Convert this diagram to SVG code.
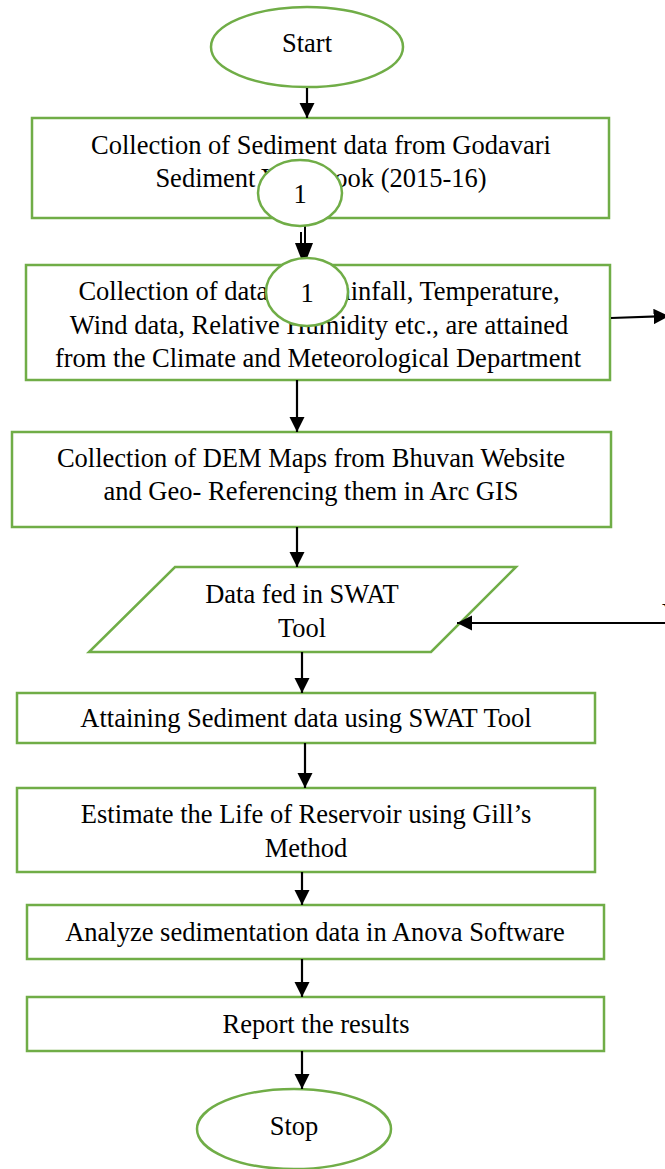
<svg xmlns="http://www.w3.org/2000/svg" width="665" height="1169" viewBox="0 0 665 1169">
  <defs>
    <marker id="arrow" viewBox="0 0 10 10" refX="10" refY="5" markerWidth="7" markerHeight="7" markerUnits="strokeWidth" orient="auto">
      <path d="M0,0 L10,5 L0,10 z" fill="#000"/>
    </marker>
    <style>
      .shape { fill: #fff; stroke: #70AD47; stroke-width: 2.5; }
      .label { font-family: "Liberation Serif", "Times New Roman", serif; font-size: 26.5px; fill: #000; text-anchor: middle; }
      .conn { stroke: #000; stroke-width: 2.2; fill: none; marker-end: url(#arrow); }
      .plain { stroke: #000; stroke-width: 2; fill: none; }
    </style>
  </defs>
  <rect width="665" height="1169" fill="#fff"/>

  <!-- terminal: start -->
  <g id="start">
    <ellipse class="shape" cx="307" cy="47" rx="96" ry="40"/>
    <text class="label" x="307" y="52">Start</text>
  </g>

  <!-- step boxes -->
  <g id="sediment-collection">
    <rect class="shape" x="32" y="118" width="577" height="100"/>
    <text class="label" x="321" y="154">Collection of Sediment data from Godavari</text>
    <text class="label" x="321" y="187">Sediment Year Book (2015-16)</text>
  </g>

  <g id="climate-collection">
    <rect class="shape" x="26" y="265" width="584" height="115"/>
    <text class="label" x="319" y="300">Collection of data like Rainfall, Temperature,</text>
    <text class="label" x="319" y="334">Wind data, Relative Humidity etc., are attained</text>
    <text class="label" x="318" y="367">from the Climate and Meteorological Department</text>
  </g>

  <g id="dem-collection">
    <rect class="shape" x="12" y="432" width="599" height="95"/>
    <text class="label" x="311" y="467">Collection of DEM Maps from Bhuvan Website</text>
    <text class="label" x="311" y="500">and Geo- Referencing them in Arc GIS</text>
  </g>

  <g id="swat-input">
    <polygon class="shape" points="175,567 516,567 431,652 89,652"/>
    <text class="label" x="302" y="603">Data fed in SWAT</text>
    <text class="label" x="302" y="637">Tool</text>
  </g>

  <g id="swat-output">
    <rect class="shape" x="17" y="693" width="578" height="50"/>
    <text class="label" x="306" y="727">Attaining Sediment data using SWAT Tool</text>
  </g>

  <g id="reservoir-life">
    <rect class="shape" x="17" y="788" width="578" height="84"/>
    <text class="label" x="306" y="823">Estimate the Life of Reservoir using Gill’s</text>
    <text class="label" x="306" y="857">Method</text>
  </g>

  <g id="anova">
    <rect class="shape" x="27" y="905" width="577" height="54"/>
    <text class="label" x="315" y="941">Analyze sedimentation data in Anova Software</text>
  </g>

  <g id="report">
    <rect class="shape" x="27" y="997" width="577" height="54"/>
    <text class="label" x="316" y="1033">Report the results</text>
  </g>

  <!-- terminal: stop -->
  <g id="stop">
    <ellipse class="shape" cx="294" cy="1129" rx="97" ry="40"/>
    <text class="label" x="294" y="1135">Stop</text>
  </g>

  <!-- connectors -->
  <g id="connectors">
    <line class="conn" x1="307" y1="88" x2="307" y2="118"/>
    <line class="plain" x1="301" y1="232" x2="301" y2="246"/>
    <line class="plain" x1="305" y1="226" x2="305" y2="246"/>
    <path d="M295,243 L313,243 L304,266 z" fill="#000"/>
    <line class="conn" x1="611" y1="318" x2="669" y2="316"/>
    <line class="conn" x1="297" y1="380" x2="297" y2="432"/>
    <line class="conn" x1="297" y1="527" x2="297" y2="567"/>
    <line class="conn" x1="667" y1="623" x2="457" y2="623"/>
    <line class="conn" x1="302" y1="652" x2="302" y2="693"/>
    <line class="conn" x1="305" y1="743" x2="305" y2="788"/>
    <line class="conn" x1="302" y1="872" x2="302" y2="905"/>
    <line class="conn" x1="302" y1="959" x2="302" y2="997"/>
    <line class="conn" x1="302" y1="1051" x2="302" y2="1089"/>
    <text class="label" x="662" y="622" style="text-anchor:start">Y</text>
  </g>

  <!-- on-page connector circles -->
  <g id="connector-1a">
    <ellipse class="shape" cx="300" cy="193" rx="42" ry="33"/>
    <text class="label" x="300" y="203">1</text>
  </g>
  <g id="connector-1b">
    <ellipse class="shape" cx="307" cy="292" rx="41" ry="34"/>
    <text class="label" x="307" y="302">1</text>
  </g>
</svg>
